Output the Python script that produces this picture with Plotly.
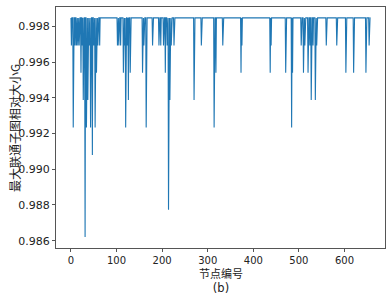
import plotly.graph_objects as go

# node index range
n_nodes = 658
baseline = 0.99847

# nodes whose removal lowers the relative size G, and the G value there
dip_nodes = [1, 5, 9, 12, 15, 18, 22, 25, 27, 31, 34, 37, 40, 43, 47, 50, 53, 56, 59, 63,
             102, 105, 109, 115, 118, 120, 124, 126, 130,
             157, 160, 165, 179, 193, 197, 203, 207, 211, 214, 217, 220, 226,
             270, 286, 314, 318, 333, 373, 375, 437, 439, 471, 484, 486,
             505, 510, 513, 520, 524, 527, 531, 536, 539, 560, 583,
             603, 620, 647, 654]
dip_values = [0.99693, 0.99233, 0.99693, 0.99693, 0.99693, 0.99693, 0.99540, 0.99693, 0.99387, 0.98620,
              0.99233, 0.99387, 0.99693, 0.99233, 0.99080, 0.99693, 0.99233, 0.99540, 0.99693, 0.99693,
              0.99693, 0.99693, 0.99693, 0.99540, 0.99693, 0.99233, 0.99693, 0.99387, 0.99540,
              0.99540, 0.99693, 0.99233, 0.99693, 0.99693, 0.99693, 0.99693, 0.99540, 0.99693, 0.98773,
              0.99387, 0.99693, 0.99693,
              0.99387, 0.99693, 0.99233, 0.99540, 0.99693, 0.99540, 0.99693, 0.99540, 0.99693, 0.99540,
              0.99233, 0.99540,
              0.99693, 0.99540, 0.99693, 0.99540, 0.99693, 0.99387, 0.99693, 0.99387, 0.99693, 0.99693,
              0.99693,
              0.99540, 0.99540, 0.99540, 0.99693]

x_ticks = [0, 100, 200, 300, 400, 500, 600]
y_ticks = [0.986, 0.988, 0.990, 0.992, 0.994, 0.996, 0.998]
y_tick_text = ["0.986", "0.988", "0.990", "0.992", "0.994", "0.996", "0.998"]

x_title = "节点编号"
y_title = "最大联通子图相对大小G"
sub_label = "(b)"

nodes = list(range(n_nodes))
values = [baseline] * n_nodes
for nd, v in zip(dip_nodes, dip_values):
    values[nd] = v

fig = go.Figure(go.Scatter(x=nodes, y=values, mode="lines",
                           line=dict(color="#1f77b4", width=1.1)))

axis_common = dict(showline=True, mirror=True, linecolor="#555", linewidth=1,
                   ticks="outside", ticklen=3, tickcolor="#555", showgrid=False,
                   zeroline=False, automargin=False)
fig.update_xaxes(range=[-32.8, 688.8], tickvals=x_ticks,
                 tickfont=dict(family="DejaVu Sans", size=10, color="#222"), **axis_common)
fig.update_yaxes(range=[0.98559, 0.99908], tickvals=y_ticks, ticktext=y_tick_text,
                 tickfont=dict(family="DejaVu Sans", size=11, color="#222"), **axis_common)

L, R, T, B = 56, 7, 7, 46
W, H = 392, 294
plot_h = H - T - B
plot_w = W - L - R
bottom_px = H - B

bottom_text = (x_title + "<br><span style='font-family:DejaVu Sans;font-size:11.5px'>"
               + sub_label + "</span>")

fig.update_layout(
    width=W, height=H, margin=dict(l=L, r=R, t=T, b=B, autoexpand=False),
    plot_bgcolor="white", paper_bgcolor="white", showlegend=False,
    annotations=[
        dict(text=bottom_text, x=0.5, xref="paper", y=-(263.5 - bottom_px) / plot_h, yref="paper",
             yanchor="top", showarrow=False, borderpad=0,
             font=dict(family="Noto Sans CJK SC", size=11, color="#222")),
        dict(text=y_title, x=-(L - 14) / plot_w, xref="paper", xanchor="center",
             y=(bottom_px - 128) / plot_h, yref="paper", yanchor="middle", showarrow=False,
             textangle=-90, font=dict(family="Noto Sans CJK SC", size=12, color="#222")),
    ],
)

fig.write_html("out.html", config={"displayModeBar": False},
               post_script="document.body.style.margin='0';document.body.style.padding='0';")
